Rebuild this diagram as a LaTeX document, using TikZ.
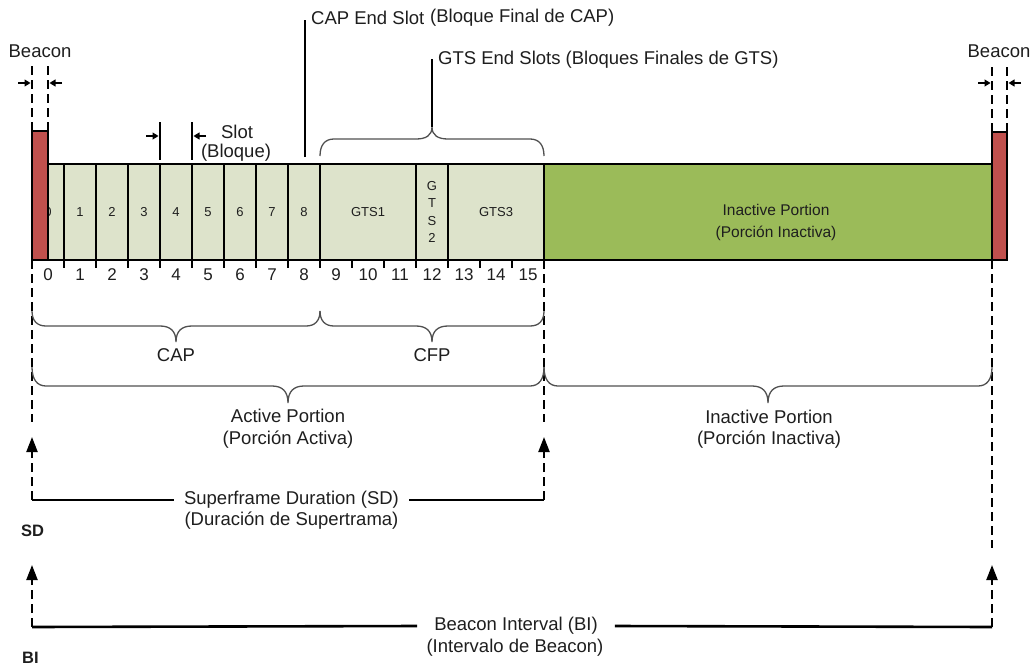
\documentclass[tikz,border=0pt]{standalone}
\usepackage{fontspec}
\setmainfont{Liberation Sans}
\usetikzlibrary{arrows.meta}

\definecolor{beaconred}{HTML}{C0504D}
\definecolor{slotfill}{HTML}{DDE3CB}
\definecolor{idlegreen}{HTML}{9BBB59}
\definecolor{ink}{HTML}{1E1E1E}
\definecolor{bracegray}{HTML}{505050}

% curly brace: x1, x2, y of the ends, y of the bar, y of the tip
\newcommand\bracegen[5]{%
  \pgfmathsetmacro\bmid{(#1+#2)/2}%
  \draw[bracestyle] (#1,#3) .. controls (#1,{#4+0.35*(#3-#4)}) and ({#1+5},#4) .. ({#1+14},#4)
    -- ({\bmid-16},#4) .. controls ({\bmid-6},#4) and (\bmid,{#4+0.3*(#5-#4)}) .. (\bmid,#5)
    .. controls (\bmid,{#4+0.3*(#5-#4)}) and ({\bmid+6},#4) .. ({\bmid+16},#4)
    -- ({#2-14},#4) .. controls ({#2-5},#4) and (#2,{#4+0.35*(#3-#4)}) .. (#2,#3);}

\tikzset{
  lbl/.style={font=\fontsize{18.5}{21.5}\selectfont, text=ink, inner sep=0pt, align=center},
  numlbl/.style={font=\fontsize{17}{20}\selectfont, text=ink, inner sep=0pt},
  tag/.style={font=\fontsize{16.5}{19}\bfseries\selectfont, text=ink, inner sep=0pt, anchor=west},
  slotbox/.style={draw=black, line width=1.1pt, fill=slotfill, minimum height=96pt,
    minimum width=32pt, inner sep=0pt, outer sep=0pt, font=\fontsize{13}{17.5}\selectfont, text=ink},
  idlebox/.style={draw=black, line width=1.1pt, fill=idlegreen, minimum height=96pt,
    minimum width=448pt, inner sep=0pt, outer sep=0pt},
  beaconbox/.style={draw=black, line width=1.1pt, fill=beaconred, inner sep=0pt, outer sep=0pt},
  dashline/.style={line width=2.2pt, dash pattern=on 9pt off 5pt},
  dasharrow/.style={dashline, -{Triangle[width=11pt,length=15pt]}},
  dimline/.style={line width=2.6pt},
  thinline/.style={line width=1.1pt},
  tinyarrow/.style={line width=1.1pt, -{Triangle[width=7pt,length=6pt]}},
  tick/.style={line width=1.1pt},
  bracestyle/.style={draw=bracegray, line width=1.3pt},
}

\begin{document}
\begin{tikzpicture}[x=1pt,y=-1pt]
\useasboundingbox (0,0) rectangle (1032,666);

% ---- superframe bar ----
\foreach \i in {0,...,8}
  \node[slotbox] (s\i) at ({48+32*\i},212) {\i};
\node[slotbox, minimum width=96pt] (gts1) at (368,212) {GTS1};
\node[slotbox, align=center] (gts2) at (432,212) {G\\T\\S\\2};
\node[slotbox, minimum width=96pt] (gts3) at (496,212) {GTS3};
\node[idlebox] (idle) at (768,212) {};
\node[lbl, font=\fontsize{15.5}{21.6}\selectfont] (idletxt) at (776,222.5)
  {Inactive Portion\\(Porción Inactiva)};

% beacons
\node[beaconbox, minimum width=16pt, minimum height=129pt] (bcnL) at (40,195.5) {};
\node[beaconbox, minimum width=15pt, minimum height=128pt] (bcnR) at (999.5,196) {};
\node[lbl] (bcnLtxt) at (40,51) {Beacon};
\node[lbl] (bcnRtxt) at (999,51) {Beacon};

% beacon width markers
\coordinate (mLa) at (32,66);
\coordinate (mLb) at (48,66);
\coordinate (mRa) at (992,66);
\coordinate (mRb) at (1007,66);
\draw[dashline] (bcnL.north west) -- (mLa);
\draw[dashline] (bcnL.north east) -- (mLb);
\draw[dashline] (bcnR.north west) -- (mRa);
\draw[dashline] (bcnR.north east) -- (mRb);
\coordinate (aL1s) at (18,83);  \coordinate (aL1e) at (30.5,83);
\coordinate (aL2s) at (62,83);  \coordinate (aL2e) at (49.5,83);
\coordinate (aR1s) at (978,83); \coordinate (aR1e) at (990.5,83);
\coordinate (aR2s) at (1021,83); \coordinate (aR2e) at (1008.5,83);
\draw[tinyarrow] (aL1s) -- (aL1e);
\draw[tinyarrow] (aL2s) -- (aL2e);
\draw[tinyarrow] (aR1s) -- (aR1e);
\draw[tinyarrow] (aR2s) -- (aR2e);

% slot width marker
\coordinate (sm1t) at (160,122); \coordinate (sm1b) at (160,160);
\coordinate (sm2t) at (192,122); \coordinate (sm2b) at (192,160);
\draw[thinline] (sm1t) -- (sm1b);
\draw[thinline] (sm2t) -- (sm2b);
\coordinate (sa1s) at (146,136); \coordinate (sa1e) at (158.5,136);
\coordinate (sa2s) at (206,136); \coordinate (sa2e) at (193.5,136);
\draw[tinyarrow] (sa1s) -- (sa1e);
\draw[tinyarrow] (sa2s) -- (sa2e);
\node[lbl] (slottxt) at (237,132) {Slot};
\node[lbl] (bloquetxt) at (236,153) {(Bloque)};

% CAP end slot pointer
\coordinate (capEndTop) at (305,20);
\coordinate (capEndBot) at (305,157);
\draw[thinline] (capEndBot) -- (capEndTop);
\node[lbl, anchor=west] (capEndTxt) at (311,18) {CAP End Slot};
\node[lbl, anchor=west] (capEndEs) at (430,18) {(Bloque Final de CAP)};

% GTS end slots pointer
\bracegen{320}{544}{156}{139}{127}
\coordinate (gtsTip) at (432,127);
\coordinate (gtsTop) at (432,59);
\draw[thinline] (gtsTip) -- (gtsTop);
\node[lbl, anchor=west] (gtsEndTxt) at (438,60) {GTS End Slots (Bloques Finales de GTS)};

% ---- slot scale below the bar ----
\foreach \i in {1,...,15}
  \draw[tick] ({32+32*\i},260) -- ++(0,8);
\foreach \i in {0,...,15}
  \node[numlbl] (n\i) at ({48+32*\i},275) {\i};

% boundary guides
\coordinate (gL) at (32,422);
\coordinate (gM) at (544,422);
\coordinate (gR) at (992,548);
\draw[dashline] (bcnL.south west) -- (gL);
\draw[dashline] (gts3.south east) -- (gM);
\draw[dashline] (bcnR.south west) -- (gR);

% ---- braces ----
\bracegen{32}{320}{311}{326}{342}
\node[lbl] (capTxt) at (176,355) {CAP};
\bracegen{320}{544}{311}{326}{342}
\node[lbl] (cfpTxt) at (432,355) {CFP};
\bracegen{32}{544}{367}{386}{403}
\node[lbl] (actTxt) at (288,428.5) {Active Portion\\(Porción Activa)};
\bracegen{544}{992}{367}{386}{403}
\node[lbl] (inactTxt) at (769,429) {Inactive Portion\\(Porción Inactiva)};

% ---- superframe duration ----
\coordinate (sdL) at (32,500);   \coordinate (sdLtip) at (32,437);
\coordinate (sdR) at (544,500);  \coordinate (sdRtip) at (544,437);
\node[lbl, inner xsep=10pt] (sdTxt) at (291.5,500) {Superframe Duration (SD)};
\node[lbl] (sdTxt2) at (291.5,521) {(Duración de Supertrama)};
\draw[dimline] (sdL) -- (sdTxt.west);
\draw[dimline] (sdTxt.east) -- (sdR);
\draw[dasharrow] (sdL) -- (sdLtip);
\draw[dasharrow] (sdR) -- (sdRtip);
\node[tag] (sdTag) at (21,531) {SD};

% ---- beacon interval ----
\coordinate (biL) at (32,627);   \coordinate (biLtip) at (32,565);
\coordinate (biR) at (992,627);  \coordinate (biRtip) at (992,565);
\node[lbl, inner xsep=17pt] (biTxt) at (516,626) {Beacon Interval (BI)};
\node[lbl] (biTxt2) at (515,648) {(Intervalo de Beacon)};
\draw[dimline] (biL) -- (biTxt.west);
\draw[dimline] (biTxt.east) -- (biR);
\draw[dasharrow] (biL) -- (biLtip);
\draw[dasharrow] (biR) -- (biRtip);
\node[tag] (biTag) at (22,658) {BI};
\end{tikzpicture}
\end{document}
